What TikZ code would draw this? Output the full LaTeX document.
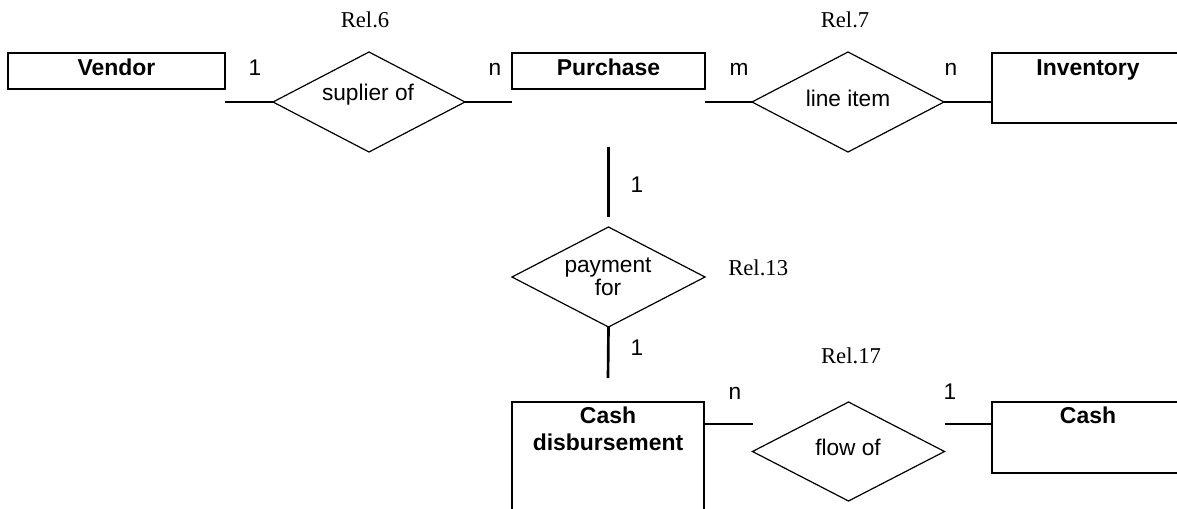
\documentclass[tikz,border=0pt]{standalone}
\usepackage{fontspec}
\setmainfont{Liberation Serif}
\setsansfont{Liberation Sans}
\usetikzlibrary{shapes.geometric,calc}
% one drawing unit = one pixel of the 1177 x 508 canvas
\newdimen\pxu \pxu=0.75pt
\tikzset{
  entity/.style={draw, line width=1.1pt, rectangle, anchor=north west,
    inner sep=0pt, outer sep=0pt},
  relation/.style={draw, line width=0.9pt, diamond, inner sep=0pt, outer sep=0pt,
    minimum width=192\pxu, minimum height=100\pxu},
  etitle/.style={font=\fontsize{17.2}{20.25}\selectfont\sffamily\bfseries,
    anchor=base, inner sep=0pt, align=center},
  rtext/.style={font=\fontsize{17}{17.25}\selectfont\sffamily,
    anchor=base, inner sep=0pt, align=center},
  card/.style={font=\fontsize{17}{20}\selectfont\sffamily, anchor=base, inner sep=0pt},
  rel/.style={font=\fontsize{17}{20}\selectfont\rmfamily, anchor=base, inner sep=0pt},
  link/.style={line width=1.4pt},
  vlink/.style={line width=2pt},
}
\begin{document}
\begin{tikzpicture}[x=0.75pt, y=-0.75pt]
\clip (0,0) rectangle (1177,508);

% entities
\node[entity, minimum width=217\pxu, minimum height=36\pxu] (vend)  at (8,53) {};
\node[entity, minimum width=193\pxu, minimum height=36\pxu] (purch) at (512,53) {};
\node[entity, minimum width=192\pxu, minimum height=70\pxu] (inv)   at (992,53) {};
\node[entity, minimum width=192\pxu, minimum height=130\pxu] (cd)   at (512,402) {};
\node[entity, minimum width=192\pxu, minimum height=71\pxu] (cash)  at (992,402) {};

% titles (base anchor = baseline of the last line)
\node[etitle] (tvend)  at ($(vend.north)+(0,22)$)  {Vendor};
\node[etitle] (tpurch) at ($(purch.north)+(0,22)$) {Purchase};
\node[etitle] (tinv)   at ($(inv.north)+(0,22)$)   {Inventory};
\node[etitle] (tcd)    at ($(cd.north)+(0,48)$)    {Cash\\disbursement};
\node[etitle] (tcash)  at ($(cash.north)+(0,21)$)  {Cash};

% relationships
\node[relation] (sup)  at (369,102) {};
\node[relation] (li)   at (848,102) {};
\node[relation, minimum width=193\pxu] (pay) at (608.5,277) {};
\node[relation, minimum height=99\pxu] (flow) at (848.5,451.5) {};

\node[rtext] (tsup)  at (368,100) {suplier of};
\node[rtext] (tli)   at (848,106) {line item};
\node[rtext] (tpay)  at (608,295) {payment\\for};
\node[rtext] (tflow) at (848,455) {flow of};

% relationship names
\node[rel] (r6)  at (365,27)  {Rel.6};
\node[rel] (r7)  at (845,27)  {Rel.7};
\node[rel, anchor=base west] (r13) at (728,275) {Rel.13};
\node[rel] (r17) at (851,363) {Rel.17};

% connectors
\draw[link] (vend.east |- sup.west) -- (sup.west);
\draw[link] (sup.east) -- (purch.west |- sup.east);
\draw[link] (purch.east |- li.west) -- (li.west);
\draw[link] (li.east) -- (inv.west |- li.east);
\draw[vlink] ($(purch.south)+(0,58)$) -- ($(pay.north)+(0,-10)$);
\draw[vlink] (pay.south) -- ($(cd.north)+(0,-24)$);
\coordinate (cdlink) at ($(cd.north east)+(0,22)$);
\coordinate (cashlink) at ($(cash.north west)+(0,22)$);
\draw[link] (cdlink) -- (cdlink -| flow.west);
\draw[link] (flow.east |- cashlink) -- (cashlink);

% cardinalities
\node[card] (c1) at (255,75) {1};
\node[card] (c2) at (495,75) {n};
\node[card] (c3) at (739,75) {m};
\node[card] (c4) at (951,75) {n};
\node[card] (c5) at (637,192) {1};
\node[card] (c6) at (637,355) {1};
\node[card] (c7) at (735,399) {n};
\node[card] (c8) at (950,399) {1};
\end{tikzpicture}
\end{document}
